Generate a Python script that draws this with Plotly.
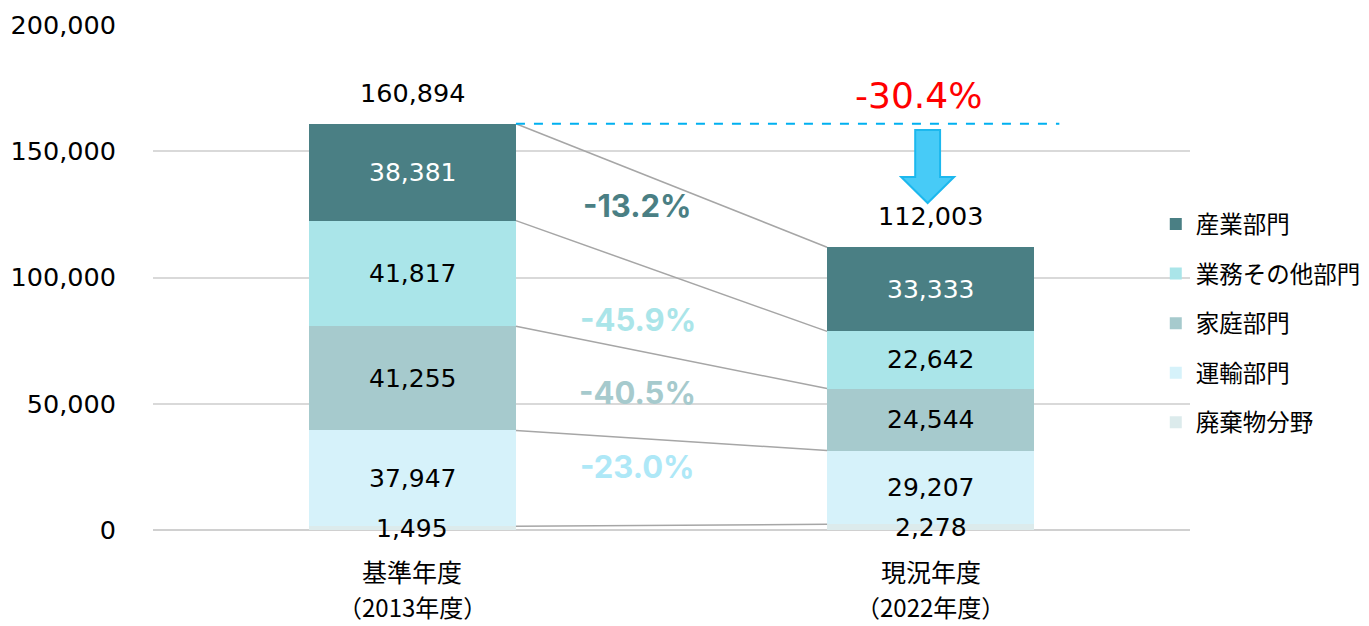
import plotly.graph_objects as go

# ---- data ----
periods = ["基準年度", "現況年度"]
period_years = ["（2013年度）", "（2022年度）"]
sectors = ["廃棄物分野", "運輸部門", "家庭部門", "業務その他部門", "産業部門"]  # bottom -> top
base_values = [1495, 37947, 41255, 41817, 38381]
current_values = [2278, 29207, 24544, 22642, 33333]
totals = [160894, 112003]

# ---- styles ----
colors = ["#DCEBEC", "#D6F2FA", "#A6CACD", "#AAE5E9", "#4A7F84"]
pct_colors = ["#4DB6C4", "#AEE8F7", "#A6CACD", "#AAE5E9", "#4A7F84"]
text_colors = ["#000000", "#000000", "#000000", "#000000", "#FFFFFF"]
NUM_FONT = "DejaVu Sans, Noto Sans CJK JP"
CJK_FONT = "Noto Sans CJK JP, DejaVu Sans"
BAR_W = 0.4
xs = [0, 1]

fig = go.Figure()
for i, name in enumerate(sectors):
    vals = [base_values[i], current_values[i]]
    fig.add_trace(go.Bar(
        x=xs, y=vals, name=name, width=BAR_W,
        marker=dict(color=colors[i], line=dict(width=0)),
        legendgroup=name, legendrank=len(sectors) - i, hoverinfo="skip",
    ))

# segment labels + connecting lines between segment tops
cum_b, cum_c = 0, 0
for i in range(len(sectors)):
    for j, (vals, cum) in enumerate([(base_values, cum_b), (current_values, cum_c)]):
        fig.add_annotation(x=xs[j], y=cum + vals[i] / 2, xref="x", yref="y",
                           text=f"{vals[i]:,}", showarrow=False,
                           font=dict(family=NUM_FONT, size=25, color=text_colors[i]))
    cum_b += base_values[i]
    cum_c += current_values[i]
    fig.add_shape(type="line", xref="x", yref="y",
                  x0=xs[0] + BAR_W / 2, y0=cum_b, x1=xs[1] - BAR_W / 2, y1=cum_c,
                  line=dict(color="#A6A6A6", width=1.5), layer="above")

# percentage change labels
pct_y = [-6300, 25300, 54300, 83200, 128700]
pct_x = [0.44, 0.435, 0.435, 0.435, 0.435]
for i in range(len(sectors)):
    ch = current_values[i] / base_values[i] - 1
    fig.add_annotation(x=pct_x[i], y=pct_y[i], xref="x", yref="y",
                       text=f"{ch*100:+.1f}%", showarrow=False,
                       font=dict(family="Inter", size=31, color=pct_colors[i], weight="bold"))

# totals above bars
for j in range(2):
    fig.add_annotation(x=xs[j], y=totals[j], xref="x", yref="y", text=f"{totals[j]:,}",
                       showarrow=False, yshift=31,
                       font=dict(family=NUM_FONT, size=25.5, color="#000000"))

# dashed reference line and total change
fig.add_shape(type="line", xref="x", yref="y", x0=xs[0] + BAR_W / 2, x1=1.248,
              y0=totals[0], y1=totals[0], line=dict(color="#00B0F0", width=2, dash="dash"))
tot_ch = totals[1] / totals[0] - 1
fig.add_annotation(x=0.977, y=totals[0], xref="x", yref="y", text=f"{tot_ch*100:.1f}%",
                   showarrow=False, yshift=28,
                   font=dict(family=NUM_FONT, size=36, color="#FF0000"))

# down arrow
ax = 0.994
sw, hw = 0.024, 0.051
yt, yh, ytip = 158400, 139800, 129500
path = (f"M{ax-sw},{yt} L{ax+sw},{yt} L{ax+sw},{yh} L{ax+hw},{yh} L{ax},{ytip} "
        f"L{ax-hw},{yh} L{ax-sw},{yh} Z")
fig.add_shape(type="path", xref="x", yref="y", path=path,
              fillcolor="#47CBF7", line=dict(color="#1CB8EE", width=2))

# category labels (two lines)
for j in range(2):
    fig.add_annotation(x=xs[j], y=-0.082, xref="x", yref="paper", text=periods[j],
                       showarrow=False, yanchor="middle",
                       font=dict(family=CJK_FONT, size=25, color="#000000"))
    fig.add_annotation(x=xs[j], y=-0.152, xref="x", yref="paper", text=period_years[j],
                       showarrow=False, yanchor="middle",
                       font=dict(family=CJK_FONT, size=24, color="#000000"))

fig.update_layout(
    width=1361, height=618,
    margin=dict(l=145, r=179, t=17, b=96, autoexpand=False),
    paper_bgcolor="white", plot_bgcolor="white",
    barmode="stack",
    showlegend=True,
    legend=dict(x=0.967, y=0.649, xanchor="left", yanchor="top",
                traceorder="grouped", tracegroupgap=16,
                font=dict(family=CJK_FONT, size=23.5, color="#000000"),
                itemwidth=30, bgcolor="rgba(0,0,0,0)"),
    xaxis=dict(range=[-0.5, 1.5], showticklabels=False, showgrid=False,
               zeroline=False, showline=False, fixedrange=True),
    yaxis=dict(range=[0, 200000], tickvals=[0, 50000, 100000, 150000, 200000],
               tickformat=",d", showgrid=True, gridcolor="#D9D9D9", gridwidth=1.5,
               zeroline=True, zerolinecolor="#D0D0D0", zerolinewidth=1.5,
               showline=False, ticks="", ticklabelstandoff=36,
               tickfont=dict(family=NUM_FONT, size=25.5, color="#000000")),
)

fig.write_html("out.html")
